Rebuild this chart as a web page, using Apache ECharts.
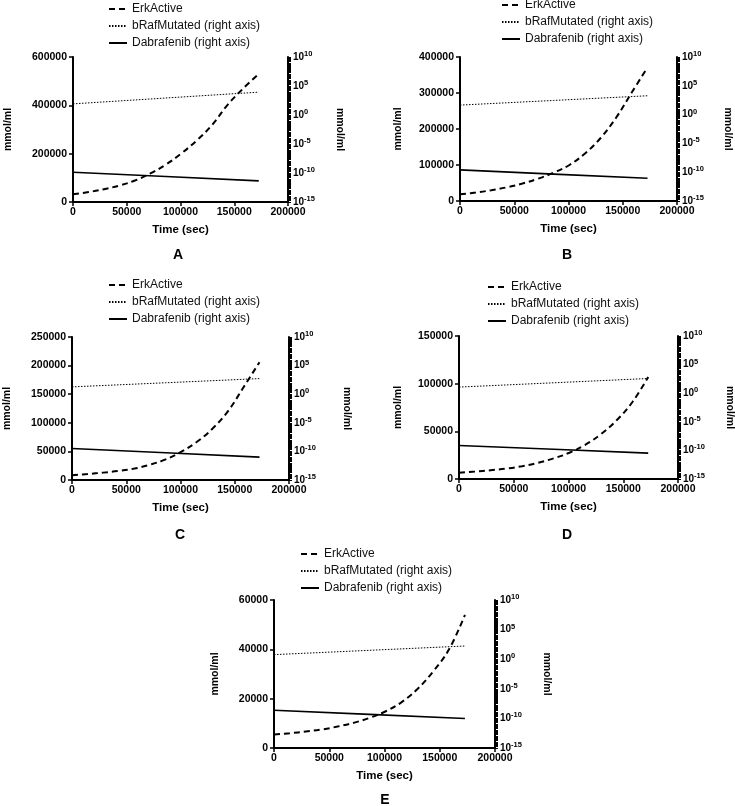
<!DOCTYPE html>
<html>
<head>
<meta charset="utf-8">
<script src="https://cdn.jsdelivr.net/npm/echarts@6/dist/echarts.min.js"></script>
<style>
html,body{margin:0;padding:0;background:#fff;}
#chart{width:735px;height:806px;}
</style>
</head>
<body>
<div id="chart"></div>
<script>
// ---------------- DATA ----------------
const panelLabels = ['A', 'B', 'C', 'D', 'E'];
const seriesNames = ['ErkActive', 'bRafMutated (right axis)', 'Dabrafenib (right axis)'];

// time points (sec) for ErkActive curves
const timeSec = [0, 14400, 28800, 43200, 57600, 72000, 86400, 100800, 115200, 129600, 144000, 158400, 172800];
// time points (sec) for straight (log-scale) right-axis series
const timeLog = [0, 86400, 172800];

const erkA = [32000, 41000, 53000, 68000, 89000, 118000, 155000, 201000, 255000, 320000, 403000, 470000, 530000];
const erkB = [18500, 23500, 29900, 38000, 48500, 62000, 79000, 100000, 132000, 175000, 232000, 302000, 371000];
const erkC = [8500, 10500, 12900, 15800, 20000, 26900, 36000, 49500, 66800, 90000, 121000, 163000, 206000];
const erkD = [6600, 7800, 9200, 10900, 13400, 17000, 21600, 27500, 35800, 47000, 61600, 80800, 107000];
const erkE = [5500, 6000, 6700, 7500, 8700, 10200, 12200, 14800, 18500, 23800, 31000, 40000, 54000];

const brafA = [83, 851, 8700];
const brafB = [44.7, 288, 1862];
const brafC = [19, 100, 537];
const brafD = [11.7, 66, 372];
const brafE = [5.9, 31.6, 170];

const dabA = [1.38e-10, 2.45e-11, 4.4e-12];
const dabB = [2.5e-10, 4.7e-11, 8.7e-12];
const dabC = [3.3e-10, 5.8e-11, 1.0e-11];
const dabD = [7.2e-10, 1.55e-10, 3.3e-11];
const dabE = [2.4e-9, 4.8e-10, 9.5e-11];

// axis ranges / tick labels
const leftMax = [600000, 400000, 250000, 150000, 60000];
const leftInterval = [200000, 100000, 50000, 50000, 20000];
const xMax = 200000, xInterval = 50000;
const logMin = 1e-15, logMax = 1e10;
const rightTicks = [1e-15, 1e-10, 1e-5, 1, 1e5, 1e10];

// log tick comb: every 1..9 x 10^n
const logTickComb = [];
for (let e = -15; e < 10; e++) {
  for (let m = 1; m <= 9; m++) logTickComb.push(m * Math.pow(10, e));
}
logTickComb.push(1e10);

// ---------------- LAYOUT ----------------
const grids = [
  {left: 73, top: 57, width: 215, height: 145},
  {left: 460, top: 57, width: 217, height: 144},
  {left: 72, top: 337, width: 217, height: 143},
  {left: 459, top: 336, width: 219, height: 143},
  {left: 274, top: 600, width: 221, height: 148}
];
const leftNameGap = [59, 56, 59, 55, 53];
const rightNameGap = [46, 45, 52, 46, 46];
const legendPos = [
  {left: 108, top: 3},
  {left: 501, top: -1},
  {left: 108, top: 279},
  {left: 487, top: 281},
  {left: 300, top: 548}
];
const letterPos = [[178, 255], [567, 255], [180, 535], [567, 535], [385, 800]];

const erk = [erkA, erkB, erkC, erkD, erkE];
const braf = [brafA, brafB, brafC, brafD, brafE];
const dab = [dabA, dabB, dabC, dabD, dabE];

const FONT = '"Liberation Sans", Arial, Helvetica, sans-serif';
const INK = '#000';

const option = {
  backgroundColor: '#fff',
  animation: false,
  grid: [], xAxis: [], yAxis: [], series: [], legend: [], graphic: []
};

grids.forEach((g, i) => {
  option.grid.push(Object.assign({containLabel: false, outerBoundsMode: 'none'}, g));
  option.xAxis.push({
    type: 'value', gridIndex: i, min: 0, max: xMax, interval: xInterval,
    name: 'Time (sec)', nameLocation: 'middle', nameGap: 22,
    nameTextStyle: {fontFamily: FONT, fontWeight: 'bold', fontSize: 11.5, color: INK},
    axisLine: {show: true, onZero: false, lineStyle: {color: INK, width: 2}},
    axisTick: {show: true, inside: false, length: 4, lineStyle: {color: INK, width: 1.5}},
    axisLabel: {margin: 5, fontFamily: FONT, fontWeight: 'bold', fontSize: 10.5, color: INK,
      formatter: v => String(v)},
    splitLine: {show: false}
  });
  const base = option.yAxis.length;
  option.yAxis.push({
    type: 'value', gridIndex: i, position: 'left', min: 0, max: leftMax[i], interval: leftInterval[i],
    name: 'mmol/ml', nameLocation: 'middle', nameRotate: 90, nameGap: leftNameGap[i],
    nameTextStyle: {fontFamily: FONT, fontWeight: 'bold', fontSize: 10.5, color: INK},
    axisLine: {show: true, onZero: false, lineStyle: {color: INK, width: 2}},
    axisTick: {show: true, inside: false, length: 4, lineStyle: {color: INK, width: 1.5}},
    axisLabel: {margin: 6, fontFamily: FONT, fontWeight: 'bold', fontSize: 10.5, color: INK,
      formatter: v => String(v)},
    splitLine: {show: false}
  });
  option.yAxis.push({
    type: 'log', logBase: 10, gridIndex: i, position: 'right', min: logMin, max: logMax,
    name: 'mmol/ml', nameLocation: 'middle', nameRotate: -90, nameGap: rightNameGap[i],
    nameTextStyle: {fontFamily: FONT, fontWeight: 'bold', fontSize: 10.5, color: INK},
    axisLine: {show: true, onZero: false, lineStyle: {color: INK, width: 2}},
    axisTick: {show: true, inside: false, length: 3, customValues: logTickComb, lineStyle: {color: INK, width: 1}},
    minorTick: {show: false},
    axisLabel: {
      margin: 5, color: INK, customValues: rightTicks,
      formatter: v => '{b|10}{e|' + Math.round(Math.log10(v)) + '}',
      rich: {
        b: {fontFamily: FONT, fontWeight: 'bold', fontSize: 10, color: INK},
        e: {fontFamily: FONT, fontWeight: 'bold', fontSize: 7.5, color: INK, verticalAlign: 'bottom', padding: [0, 0, 6, 0]}
      }
    },
    splitLine: {show: false}, minorSplitLine: {show: false}
  });

  option.series.push({
    name: seriesNames[0], type: 'line', xAxisIndex: i, yAxisIndex: base,
    data: timeSec.map((t, k) => [t, erk[i][k]]),
    symbol: 'none', smooth: 0.4,
    lineStyle: {color: INK, width: 2, type: [6, 4]}, itemStyle: {color: INK}
  });
  option.series.push({
    name: seriesNames[1], type: 'line', xAxisIndex: i, yAxisIndex: base + 1,
    data: timeLog.map((t, k) => [t, braf[i][k]]),
    symbol: 'none',
    lineStyle: {color: INK, width: 1, type: [1.5, 1.5]}, itemStyle: {color: INK}
  });
  option.series.push({
    name: seriesNames[2], type: 'line', xAxisIndex: i, yAxisIndex: base + 1,
    data: timeLog.map((t, k) => [t, dab[i][k]]),
    symbol: 'none',
    lineStyle: {color: INK, width: 1.6, type: 'solid'}, itemStyle: {color: INK}
  });

  option.legend.push({
    orient: 'vertical', left: legendPos[i].left, top: legendPos[i].top,
    data: seriesNames.slice(), selectedMode: false,
    itemWidth: 18, itemHeight: 14, itemGap: 5, padding: 0,
    itemStyle: {opacity: 0},
    textStyle: {fontFamily: FONT, fontSize: 12, color: '#111'}
  });

  option.graphic.push({
    type: 'text', x: letterPos[i][0], y: letterPos[i][1],
    style: {text: panelLabels[i], fontFamily: FONT, fontWeight: 'bold', fontSize: 14, fill: INK,
      align: 'center', verticalAlign: 'middle'}
  });
});

const chart = echarts.init(document.getElementById('chart'), null, {renderer: 'canvas'});
chart.setOption(option);
</script>
</body>
</html>
